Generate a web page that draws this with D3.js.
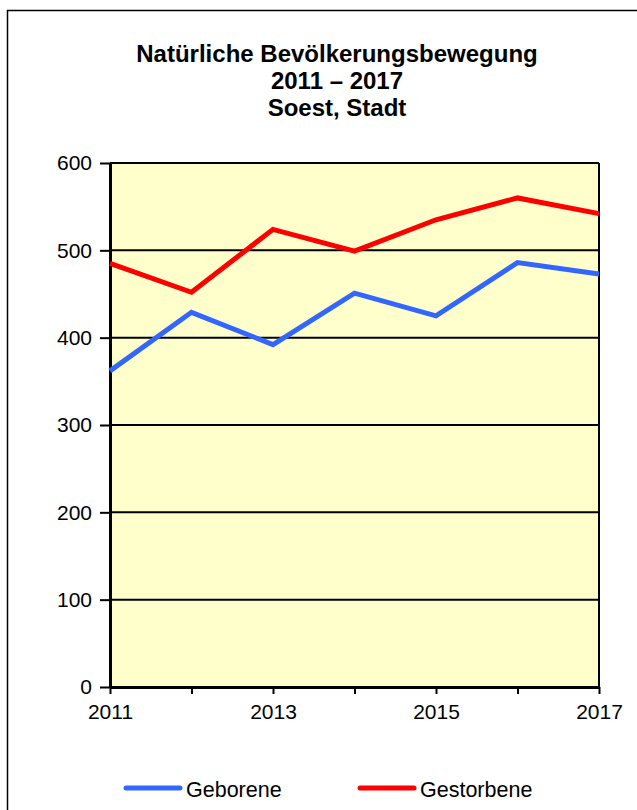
<!DOCTYPE html>
<html>
<head>
<meta charset="utf-8">
<script src="https://cdn.jsdelivr.net/npm/d3@7"></script>
<style>
  html, body { margin: 0; padding: 0; background: #fff; }
  svg { display: block; font-family: "Liberation Sans", Arial, sans-serif; }
</style>
</head>
<body>
<svg id="chart"></svg>
<script>
const width = 637;
const height = 810;

// data
const years = [2011, 2012, 2013, 2014, 2015, 2016, 2017];
const geboren = [362, 429, 392, 451, 425, 486, 473];
const gestorben = [485, 452, 524, 499, 535, 560, 542];
const yTicks = [0, 100, 200, 300, 400, 500, 600];
const xLabels = [2011, 2013, 2015, 2017];
const titleLines = ["Natürliche Bevölkerungsbewegung", "2011 – 2017", "Soest, Stadt"];
const seriesNames = ["Geborene", "Gestorbene"];

const plot = { left: 110, right: 599, top: 163, bottom: 687 };

const svg = d3.select("#chart")
  .attr("width", width)
  .attr("height", height)
  .attr("viewBox", `0 0 ${width} ${height}`);

// outer frame
svg.append("rect")
  .attr("x", 7.5).attr("y", 10.5)
  .attr("width", 700).attr("height", 900)
  .attr("fill", "#fff")
  .attr("stroke", "#000")
  .attr("stroke-width", 1.5);

// title
svg.append("text")
  .attr("text-anchor", "middle")
  .attr("font-weight", "bold")
  .attr("font-size", 24)
  .selectAll("tspan")
  .data(titleLines)
  .enter()
  .append("tspan")
  .attr("x", 337)
  .attr("y", (d, i) => 62 + i * 27)
  .text(d => d);

const x = d3.scaleLinear()
  .domain(d3.extent(years))
  .range([plot.left, plot.right]);

const y = d3.scaleLinear()
  .domain([0, 600])
  .range([plot.bottom, plot.top]);

// plot area
svg.append("rect")
  .attr("x", plot.left).attr("y", plot.top)
  .attr("width", plot.right - plot.left)
  .attr("height", plot.bottom - plot.top)
  .attr("fill", "#FFFFCC");

// gridlines
svg.append("g")
  .selectAll("line")
  .data(yTicks.filter(d => d > 0))
  .enter()
  .append("line")
  .attr("x1", plot.left).attr("x2", plot.right)
  .attr("y1", d => y(d)).attr("y2", d => y(d))
  .attr("stroke", "#000")
  .attr("stroke-width", 2);

// right border
svg.append("line")
  .attr("x1", plot.right).attr("x2", plot.right)
  .attr("y1", plot.top).attr("y2", plot.bottom)
  .attr("stroke", "#000")
  .attr("stroke-width", 2);

// y axis
const yAxis = svg.append("g")
  .attr("transform", `translate(${plot.left},0)`)
  .call(d3.axisLeft(y).tickValues(yTicks).tickSize(10).tickPadding(8).tickSizeOuter(0));

// x axis
const xAxis = svg.append("g")
  .attr("transform", `translate(0,${plot.bottom})`)
  .call(d3.axisBottom(x).tickValues(years).tickSize(7).tickPadding(10).tickSizeOuter(0)
    .tickFormat(d => xLabels.includes(d) ? d : ""));

[yAxis, xAxis].forEach(a => {
  a.select(".domain").attr("stroke", "#000").attr("stroke-width", 3);
  a.selectAll(".tick line").attr("stroke", "#000").attr("stroke-width", 2);
  a.selectAll(".tick text")
    .attr("fill", "#000")
    .attr("font-size", 21)
    .attr("font-family", "Liberation Sans, Arial, sans-serif");
});
xAxis.selectAll(".tick text").attr("dy", null).attr("y", 32);

// lines
const line = d3.line()
  .x((d, i) => x(years[i]))
  .y(d => y(d));

const series = [
  { name: seriesNames[0], values: geboren, color: "#3366FF" },
  { name: seriesNames[1], values: gestorben, color: "#FF0000" }
];

svg.append("g")
  .selectAll("path")
  .data(series)
  .enter()
  .append("path")
  .attr("d", d => line(d.values))
  .attr("fill", "none")
  .attr("stroke", d => d.color)
  .attr("stroke-width", 5)
  .attr("stroke-linejoin", "miter");

// legend
const legendX = [126, 360];
const legend = svg.append("g")
  .selectAll("g")
  .data(series)
  .enter()
  .append("g")
  .attr("transform", (d, i) => `translate(${legendX[i]},788)`);

legend.append("line")
  .attr("x1", 0).attr("x2", 54)
  .attr("y1", 0).attr("y2", 0)
  .attr("stroke", d => d.color)
  .attr("stroke-width", 5)
  .attr("stroke-linecap", "round");

legend.append("text")
  .attr("x", 60)
  .attr("y", 9)
  .attr("font-size", 21.5)
  .text(d => d.name);
</script>
</body>
</html>
